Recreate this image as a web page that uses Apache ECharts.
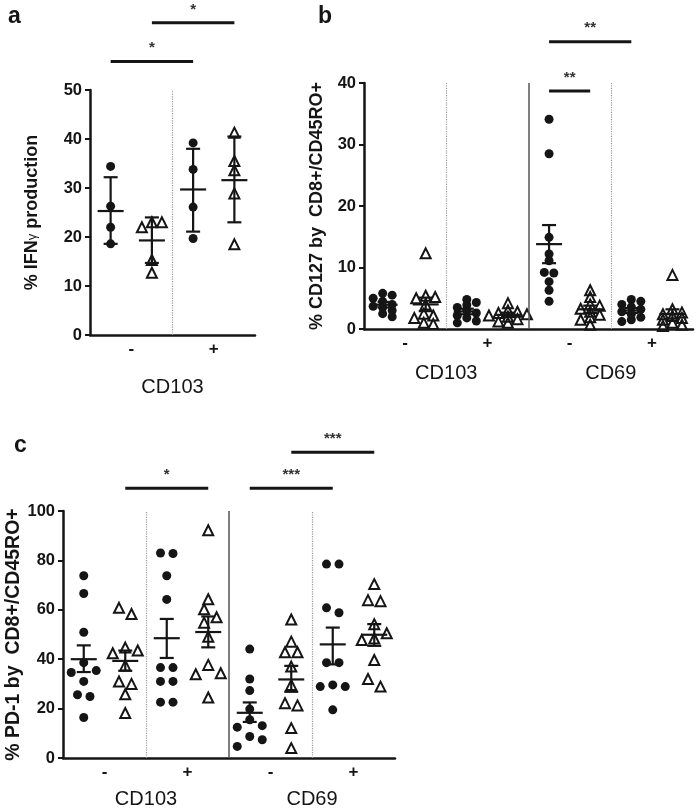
<!DOCTYPE html>
<html><head><meta charset="utf-8">
<script src="https://cdn.jsdelivr.net/npm/echarts@6/dist/echarts.min.js"></script>
<style>html,body{margin:0;padding:0;background:#fff}#c{width:697px;height:810px}</style>
</head><body><div id="c"></div>
<script>
// ---------------- DATA ----------------
// Panel a: % IFNγ production (mean ± SD), groups: CD103- ●, CD103- △, CD103+ ●, CD103+ △
const aTicks = [0, 10, 20, 30, 40, 50];
const aSigns = ['-', '+'];
const aMarkers = ['CD103'];
const aVals = [
  [34.4, 26.3, 22.0, 18.6],
  [23.0, 23.0, 22.0, 15.3, 12.7],
  [39.2, 33.8, 26.1, 19.7],
  [41.3, 35.5, 33.6, 28.9, 18.5]
];
const aMean = [25.3, 19.3, 29.7, 31.6];
const aLow  = [18.6, 14.7, 21.1, 23.0];
const aHigh = [32.2, 24.0, 38.0, 40.5];
const aSig = [[0, 2, 55.8, '*'], [1, 3, 63.7, '*']];

// Panel b: % CD127 by CD8+/CD45RO+ (mean ± SEM)
const bTicks = [0, 10, 20, 30, 40];
const bSigns = ['-', '+', '-', '+'];
const bMarkers = ['CD103', 'CD69'];
const bVals = [
  [5.8, 5.5, 5.0, 4.5, 4.0, 3.7, 3.5, 3.0, 2.5, 2.0],
  [12.3, 5.4, 5.2, 5.0, 4.0, 2.5, 2.2, 1.8, 1.0, 0.8],
  [4.8, 4.3, 3.9, 3.5, 3.0, 2.6, 2.2, 1.8, 1.3, 1.0],
  [4.2, 3.0, 2.8, 2.6, 2.4, 2.2, 2.0, 1.6, 1.2, 1.0],
  [34.1, 28.5, 14.9, 12.2, 11.1, 9.2, 9.1, 7.7, 6.3, 4.5],
  [6.3, 5.2, 4.0, 3.8, 3.3, 2.8, 2.3, 1.9, 1.5, 0.7],
  [4.8, 4.5, 4.0, 3.6, 3.2, 2.8, 2.4, 1.9, 1.5, 1.2],
  [8.8, 3.2, 2.7, 2.4, 2.1, 1.8, 1.5, 1.0, 0.7, 0.5]
];
const bMean = [3.95, 4.0, 2.85, 2.3, 13.8, 3.2, 3.0, 2.45];
const bLow  = [3.5, 2.9, 2.4, 1.95, 10.7, 2.6, 2.6, 1.7];
const bHigh = [4.4, 5.1, 3.3, 2.65, 16.9, 3.8, 3.4, 3.2];
const bSig = [[4, 5, 38.7, '**'], [4, 6, 46.7, '**']];

// Panel c: % PD-1 by CD8+/CD45RO+ (mean ± SEM)
const cTicks = [0, 20, 40, 60, 80, 100];
const cSigns = ['-', '+', '-', '+'];
const cMarkers = ['CD103', 'CD69'];
const cVals = [
  [73.8, 66.6, 50.9, 38.6, 35.4, 34.6, 31.0, 25.6, 24.9, 16.4],
  [60.8, 58.3, 44.7, 43.5, 42.4, 37.5, 31.0, 30.0, 25.8, 18.2],
  [83.0, 82.8, 73.8, 64.2, 36.6, 36.6, 31.0, 31.0, 22.6, 22.6],
  [92.2, 64.3, 60.2, 57.0, 54.8, 49.1, 37.7, 34.3, 33.9, 24.5],
  [44.1, 32.0, 27.3, 19.8, 15.5, 13.1, 12.5, 8.7, 7.4, 4.7],
  [56.1, 47.1, 42.8, 42.8, 37.0, 29.6, 22.2, 21.3, 12.1, 4.0],
  [78.5, 78.5, 60.8, 58.8, 38.6, 38.6, 29.6, 28.9, 28.9, 19.5],
  [70.4, 63.9, 63.5, 54.2, 50.5, 48.4, 47.8, 39.7, 32.0, 28.9]
];
const cMean = [40.0, 39.3, 48.5, 51.0, 18.3, 31.8, 46.0, 49.9];
const cLow  = [34.8, 35.3, 40.5, 44.8, 14.6, 26.8, 37.9, 45.4];
const cHigh = [45.6, 43.5, 56.3, 57.3, 22.5, 37.3, 52.8, 54.2];
const cSig = [[1, 3, 109.2, '*'], [4, 6, 109.2, '***'], [5, 7, 123.8, '***']];

// ---------------- LAYOUT / STYLE ----------------
const FONT = '"Liberation Sans", Arial, Helvetica, sans-serif';
const INK = '#151515';
const LAYOUT = [
  {left: 90, top: 90, width: 165, height: 245, nameGap: 49, nameSize: 18, markOffset: 34, S: 10, H: 6},
  {left: 364, top: 83, width: 329, height: 246, nameGap: 38, nameSize: 18, markOffset: 26, S: 9.5, H: 5.5},
  {left: 63, top: 511, width: 332, height: 247, nameGap: 32, nameSize: 19.5, markOffset: 23, S: 12.5, H: 10}
];
const PANELS = [
  {yName: '% IFN{g|γ} production', ticks: aTicks, signs: aSigns, markers: aMarkers, vals: aVals, mean: aMean, low: aLow, high: aHigh, sig: aSig},
  {yName: '% CD127 by  CD8+/CD45RO+', ticks: bTicks, signs: bSigns, markers: bMarkers, vals: bVals, mean: bMean, low: bLow, high: bHigh, sig: bSig},
  {yName: '% PD-1 by  CD8+/CD45RO+', ticks: cTicks, signs: cSigns, markers: cMarkers, vals: cVals, mean: cMean, low: cLow, high: cHigh, sig: cSig}
];

// simple column-based scatter spreading (like Prism's scatter dot plot)
function spread(vals, gi, L, max, n) {
  const ypx = L.height / max, xpx = L.width / n;
  const order = vals.map((v, i) => i).sort((p, q) => vals[q] - vals[p]);
  const pts = [];
  order.forEach(i => {
    const py = vals[i] * ypx;
    let k = 0;
    for (let t = 0; t < 50; t++) {
      const cand = t === 0 ? 0 : (t % 2 ? Math.ceil(t / 2) : -Math.ceil(t / 2));
      if (pts.every(p => p.k !== cand || Math.abs(p.py - py) >= L.H)) { k = cand; break; }
    }
    pts.push({i, k, px: k * L.S, py});
  });
  pts.sort((p, q) => q.py - p.py);
  let s = 0;
  for (let j = 1; j <= pts.length; j++) {
    if (j === pts.length || pts[j - 1].py - pts[j].py >= L.H) {
      const cl = pts.slice(s, j);
      const m = cl.reduce((acc, p) => acc + p.px, 0) / cl.length;
      cl.forEach(p => p.px -= m);
      s = j;
    }
  }
  return pts.map(p => [gi + 0.5 + p.px / xpx, vals[p.i]]);
}

function errItem(params, api) {
  const x = api.value(0);
  const pm = api.coord([x, api.value(1)]);
  const pl = api.coord([x, api.value(2)]);
  const ph = api.coord([x, api.value(3)]);
  const st = {stroke: INK, lineWidth: 2.2};
  return {type: 'group', children: [
    {type: 'line', shape: {x1: pm[0], y1: pl[1], x2: pm[0], y2: ph[1]}, style: st},
    {type: 'line', shape: {x1: pm[0] - 7, y1: pl[1], x2: pm[0] + 7, y2: pl[1]}, style: st},
    {type: 'line', shape: {x1: pm[0] - 7, y1: ph[1], x2: pm[0] + 7, y2: ph[1]}, style: st},
    {type: 'line', shape: {x1: pm[0] - 13, y1: pm[1], x2: pm[0] + 13, y2: pm[1]}, style: st}
  ]};
}

const grids = [], xAxes = [], yAxes = [], series = [];
PANELS.forEach((P, gi) => {
  const L = LAYOUT[gi];
  const n = P.vals.length;
  const min = P.ticks[0], max = P.ticks[P.ticks.length - 1], interval = P.ticks[1] - P.ticks[0];
  grids.push({left: L.left, top: L.top, width: L.width, height: L.height, containLabel: false, outerBoundsMode: 'none'});
  const xi = xAxes.length;
  xAxes.push({
    gridIndex: gi, type: 'value', min: 0, max: n, interval: 1, position: 'bottom',
    axisLine: {show: true, onZero: false, lineStyle: {color: INK, width: 2.5}},
    axisTick: {show: false}, splitLine: {show: false},
    axisLabel: {show: true, margin: 6, fontFamily: FONT, fontSize: 17, fontWeight: 'bold', color: INK,
      showMinLabel: true, showMaxLabel: true,
      formatter: v => (v % 2 === 1) ? P.signs[(v - 1) / 2] : ''}
  });
  xAxes.push({
    gridIndex: gi, type: 'value', min: 0, max: n, interval: 1, position: 'bottom', offset: L.markOffset,
    axisLine: {show: false}, axisTick: {show: false}, splitLine: {show: false},
    axisLabel: {show: true, margin: 8, fontFamily: FONT, fontSize: 20, color: INK,
      showMinLabel: true, showMaxLabel: true,
      formatter: v => (v % 4 === 2) ? P.markers[(v - 2) / 4] : ''}
  });
  yAxes.push({
    gridIndex: gi, type: 'value', min, max, interval,
    name: P.yName, nameLocation: 'middle', nameGap: L.nameGap,
    nameTextStyle: {fontFamily: FONT, fontSize: L.nameSize, fontWeight: 'bold', color: INK,
      rich: {g: {fontFamily: FONT, fontSize: 13, fontWeight: 'normal', color: INK}}},
    axisLine: {show: true, onZero: false, lineStyle: {color: INK, width: 2.5}},
    axisTick: {show: true, length: 5, lineStyle: {color: INK, width: 2}},
    splitLine: {show: false},
    axisLabel: {margin: 8, fontFamily: FONT, fontSize: 16.5, fontWeight: 'bold', color: INK}
  });
  const circ = [], tri = [];
  P.vals.forEach((vals, g) => {
    const pts = spread(vals, g, L, max, n);
    (g % 2 === 0 ? circ : tri).push(...pts);
  });
  const dividers = [];
  for (let d = 2; d < n; d += 2) {
    dividers.push(d % 4 === 0
      ? {xAxis: d, lineStyle: {type: 'solid', color: '#555', width: 1.5}}
      : {xAxis: d, lineStyle: {type: 'dotted', color: '#9a9a9a', width: 1.2}});
  }
  series.push({
    type: 'scatter', xAxisIndex: xi, yAxisIndex: gi, data: circ, symbol: 'circle', symbolSize: 9,
    itemStyle: {color: INK, opacity: 1}, z: 3,
    markLine: {symbol: ['none', 'none'], silent: true, animation: false, label: {show: false}, data: dividers}
  });
  series.push({
    type: 'scatter', xAxisIndex: xi, yAxisIndex: gi, data: tri, symbol: 'triangle', symbolSize: 10,
    itemStyle: {color: 'rgba(255,255,255,0)', borderColor: INK, borderWidth: 2, opacity: 1}, z: 3
  });
  series.push({
    type: 'custom', xAxisIndex: xi, yAxisIndex: gi, renderItem: errItem, z: 4, clip: false,
    encode: {x: 0, y: [1, 2, 3]},
    data: P.mean.map((m, g) => [g + 0.5, m, P.low[g], P.high[g]])
  });
  series.push({
    type: 'custom', xAxisIndex: xi, yAxisIndex: gi, z: 5, clip: false,
    encode: {x: [0, 1], y: 2},
    renderItem: (params, api) => {
      const p1 = api.coord([api.value(0), api.value(2)]);
      const p2 = api.coord([api.value(1), api.value(2)]);
      return {type: 'group', children: [
        {type: 'line', shape: {x1: p1[0], y1: p1[1], x2: p2[0], y2: p2[1]}, style: {stroke: INK, lineWidth: 3}},
        {type: 'text', x: (p1[0] + p2[0]) / 2, y: p1[1] - 6,
          style: {text: P.sig[params.dataIndex][3], fill: '#333', font: 'bold 15px ' + FONT, align: 'center', verticalAlign: 'bottom'}}
      ]};
    },
    data: P.sig.map(s => [s[0] + 0.5, s[1] + 0.5, s[2]])
  });
});

const chart = echarts.init(document.getElementById('c'), null, {renderer: 'canvas'});
chart.setOption({
  animation: false,
  backgroundColor: '#fff',
  title: [
    {text: 'a', left: 3, top: 0, textStyle: {fontFamily: FONT, fontSize: 23, fontWeight: 'bold', color: INK}},
    {text: 'b', left: 313, top: 0, textStyle: {fontFamily: FONT, fontSize: 23, fontWeight: 'bold', color: INK}},
    {text: 'c', left: 9, top: 429, textStyle: {fontFamily: FONT, fontSize: 23, fontWeight: 'bold', color: INK}}
  ],
  grid: grids, xAxis: xAxes, yAxis: yAxes, series
});
</script></body></html>
